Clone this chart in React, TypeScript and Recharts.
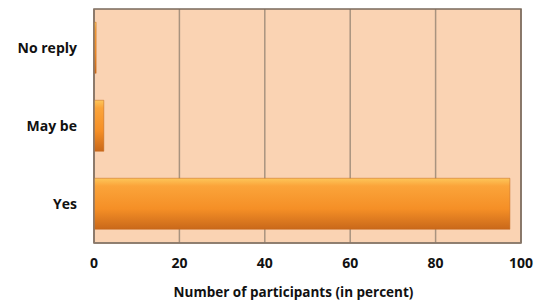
import React from 'react';
import { BarChart, Bar, XAxis, YAxis, CartesianGrid, ReferenceArea } from 'recharts';

const categories = ['No reply', 'May be', 'Yes'];
const percentValues = [0.5, 2.3, 97.4];
const xTicks = [0, 20, 40, 60, 80, 100];

const data = categories.map((c, i) => ({ name: c, value: percentValues[i] }));

const font = '"Open Sans", Lato, sans-serif';

export default function App() {
  return (
    <div style={{ position: 'absolute', left: 0, top: 0, width: 537, height: 302, background: '#fff' }}>
      <BarChart
        width={537}
        height={302}
        data={data}
        layout="vertical"
        margin={{ top: 9, right: 16, bottom: 0, left: 0 }}
        barCategoryGap="17%"
      >
        <defs>
          <linearGradient id="barGrad" x1="0" y1="0" x2="0" y2="1">
            <stop offset="0%" stopColor="#FDC65A" />
            <stop offset="15%" stopColor="#FBA43A" />
            <stop offset="60%" stopColor="#F58F26" />
            <stop offset="100%" stopColor="#C9681A" />
          </linearGradient>
        </defs>
        <CartesianGrid horizontal={false} stroke="#A8937F" strokeWidth={1.5} fill="#FAD3B3" fillOpacity={1} />
        <XAxis
          type="number"
          domain={[0, 100]}
          ticks={xTicks}
          height={59}
          tickLine={false}
          tickSize={0}
          tickMargin={15}
          axisLine={{ stroke: '#8C7B6C', strokeWidth: 1.5 }}
          tick={{ fill: '#111', fontSize: 14, fontWeight: 700, fontFamily: font }}
          label={{
            value: 'Number of participants (in percent)',
            position: 'insideBottom',
            offset: 5,
            dx: -14,
            style: { fill: '#111', fontSize: 13.5, fontWeight: 700, fontFamily: font },
          }}
        />
        <YAxis
          type="category"
          dataKey="name"
          width={94}
          tickLine={false}
          tickSize={0}
          tickMargin={17}
          axisLine={{ stroke: '#8C7B6C', strokeWidth: 1.5 }}
          tick={{ fill: '#111', fontSize: 14, fontWeight: 700, fontFamily: font }}
        />
        <ReferenceArea x1={0} x2={100} stroke="#7A6A5C" strokeWidth={1.5} fill="none" fillOpacity={0} />
        <Bar dataKey="value" fill="url(#barGrad)" stroke="#C2661C" strokeWidth={0.5} isAnimationActive={false} />
      </BarChart>
    </div>
  );
}
